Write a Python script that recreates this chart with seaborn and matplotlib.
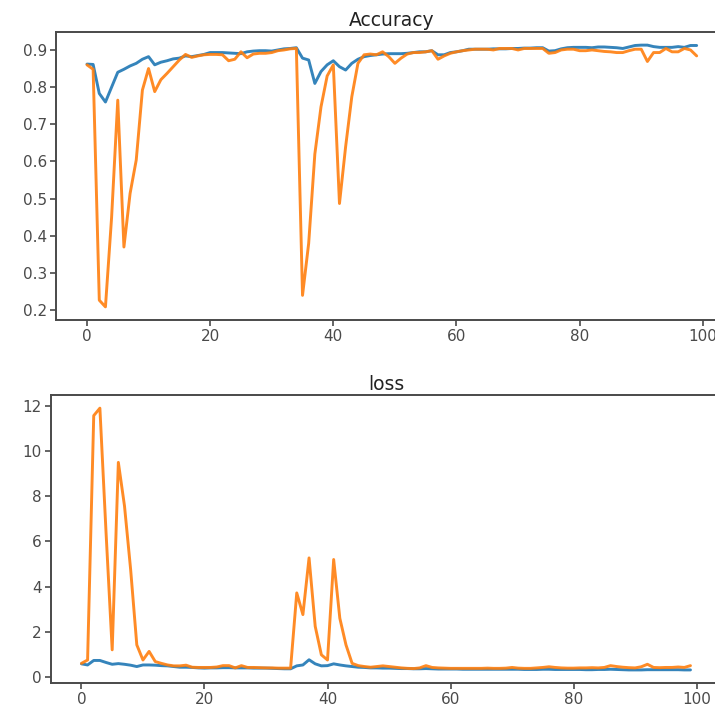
import numpy as np
import pandas as pd
import matplotlib
matplotlib.use("Agg")
import matplotlib.pyplot as plt
import seaborn as sns

# training history
epochs = np.arange(100)

acc_train = [0.862, 0.861, 0.783, 0.760, 0.800, 0.840, 0.848, 0.857, 0.864, 0.875,
             0.882, 0.860, 0.867, 0.871, 0.876, 0.878, 0.884, 0.882, 0.885, 0.888,
             0.893, 0.893, 0.893, 0.892, 0.891, 0.890, 0.895, 0.897, 0.898, 0.898,
             0.897, 0.900, 0.903, 0.904, 0.906, 0.878, 0.873, 0.810, 0.842, 0.860,
             0.871, 0.855, 0.846, 0.864, 0.875, 0.882, 0.885, 0.887, 0.889, 0.890,
             0.890, 0.890, 0.891, 0.893, 0.895, 0.895, 0.898, 0.887, 0.887, 0.893,
             0.895, 0.898, 0.902, 0.902, 0.902, 0.902, 0.903, 0.903, 0.903, 0.904,
             0.904, 0.905, 0.905, 0.906, 0.906, 0.897, 0.898, 0.903, 0.906, 0.907,
             0.907, 0.907, 0.906, 0.908, 0.908, 0.907, 0.906, 0.904, 0.908, 0.912,
             0.913, 0.913, 0.909, 0.907, 0.907, 0.907, 0.909, 0.907, 0.912, 0.912]

acc_val = [0.860, 0.848, 0.227, 0.209, 0.450, 0.765, 0.370, 0.514, 0.604, 0.792,
           0.850, 0.788, 0.820, 0.837, 0.855, 0.873, 0.888, 0.880, 0.884, 0.887,
           0.888, 0.888, 0.887, 0.871, 0.875, 0.895, 0.879, 0.889, 0.891, 0.891,
           0.893, 0.898, 0.900, 0.903, 0.904, 0.240, 0.380, 0.620, 0.747, 0.830,
           0.860, 0.487, 0.640, 0.774, 0.864, 0.887, 0.889, 0.887, 0.895, 0.882,
           0.864, 0.878, 0.889, 0.893, 0.893, 0.895, 0.898, 0.875, 0.884, 0.891,
           0.895, 0.898, 0.900, 0.902, 0.902, 0.902, 0.900, 0.904, 0.904, 0.904,
           0.900, 0.904, 0.904, 0.904, 0.904, 0.891, 0.893, 0.900, 0.902, 0.902,
           0.898, 0.898, 0.900, 0.898, 0.896, 0.895, 0.893, 0.893, 0.898, 0.902,
           0.902, 0.869, 0.893, 0.893, 0.904, 0.895, 0.895, 0.904, 0.900, 0.884]

loss_train = [0.58, 0.53, 0.73, 0.73, 0.64, 0.56, 0.59, 0.56, 0.52, 0.46,
              0.53, 0.53, 0.52, 0.50, 0.49, 0.46, 0.43, 0.43, 0.42, 0.40,
              0.39, 0.40, 0.40, 0.41, 0.41, 0.40, 0.40, 0.40, 0.39, 0.39,
              0.39, 0.38, 0.37, 0.36, 0.36, 0.49, 0.53, 0.76, 0.58, 0.49,
              0.50, 0.58, 0.53, 0.49, 0.46, 0.43, 0.42, 0.40, 0.40, 0.39,
              0.39, 0.38, 0.37, 0.37, 0.36, 0.36, 0.37, 0.36, 0.35, 0.35,
              0.35, 0.35, 0.34, 0.34, 0.34, 0.34, 0.34, 0.34, 0.34, 0.34,
              0.34, 0.34, 0.33, 0.33, 0.33, 0.34, 0.34, 0.33, 0.33, 0.33,
              0.33, 0.33, 0.32, 0.32, 0.33, 0.33, 0.34, 0.33, 0.32, 0.31,
              0.31, 0.31, 0.32, 0.32, 0.32, 0.32, 0.32, 0.32, 0.31, 0.31]

loss_val = [0.60, 0.75, 11.57, 11.90, 6.40, 1.20, 9.50, 7.57, 4.75, 1.42,
            0.75, 1.13, 0.68, 0.60, 0.53, 0.49, 0.49, 0.52, 0.43, 0.42,
            0.42, 0.42, 0.44, 0.50, 0.50, 0.40, 0.50, 0.42, 0.42, 0.41,
            0.40, 0.40, 0.39, 0.39, 0.39, 3.72, 2.76, 5.27, 2.24, 0.98,
            0.75, 5.20, 2.60, 1.42, 0.60, 0.50, 0.46, 0.43, 0.46, 0.49,
            0.46, 0.43, 0.40, 0.38, 0.37, 0.40, 0.50, 0.42, 0.40, 0.39,
            0.38, 0.38, 0.38, 0.38, 0.38, 0.38, 0.39, 0.38, 0.38, 0.39,
            0.42, 0.39, 0.38, 0.38, 0.40, 0.42, 0.45, 0.42, 0.40, 0.39,
            0.39, 0.40, 0.40, 0.41, 0.40, 0.42, 0.50, 0.46, 0.43, 0.41,
            0.40, 0.45, 0.56, 0.42, 0.41, 0.42, 0.42, 0.44, 0.42, 0.50]

sns.set_style("ticks")
plt.rcParams['font.family'] = ['DejaVu Sans']
plt.rcParams['axes.edgecolor'] = '#4a4a4a'
plt.rcParams['axes.linewidth'] = 1.4
plt.rcParams['xtick.color'] = '#4a4a4a'
plt.rcParams['ytick.color'] = '#4a4a4a'
plt.rcParams['text.color'] = '#222222'

colors = ['#1f77b4', '#ff7f0e']

acc_df = pd.DataFrame({'epoch': np.concatenate([epochs, epochs]),
                       'value': acc_train + acc_val,
                       'split': ['train'] * 100 + ['val'] * 100})
loss_df = pd.DataFrame({'epoch': np.concatenate([epochs, epochs]),
                        'value': loss_train + loss_val,
                        'split': ['train'] * 100 + ['val'] * 100})

fig = plt.figure(figsize=(7.15, 7.04), dpi=100)
# the reference is cut off on the right, so the axes run past the figure edge
ax1 = fig.add_axes([0.079, 0.5455, 0.938, 0.409])
ax2 = fig.add_axes([0.0713, 0.0298, 0.937, 0.409])

for ax, df, title in [(ax1, acc_df, 'Accuracy'), (ax2, loss_df, 'loss')]:
    sns.lineplot(data=df, x='epoch', y='value', hue='split', palette=colors,
                 linewidth=2.1, alpha=0.9, legend=False, ax=ax)
    ax.set_title(title, fontsize=13.5, pad=4)
    ax.set_xlabel('')
    ax.set_ylabel('')
    ax.set_xticks([0, 20, 40, 60, 80, 100])
    ax.tick_params(labelsize=11, length=4, width=1.2, pad=2.5)

ax1.set_yticks([0.2, 0.3, 0.4, 0.5, 0.6, 0.7, 0.8, 0.9])
ax2.set_yticks([0, 2, 4, 6, 8, 10, 12])

fig.savefig('out.png', dpi=100)
